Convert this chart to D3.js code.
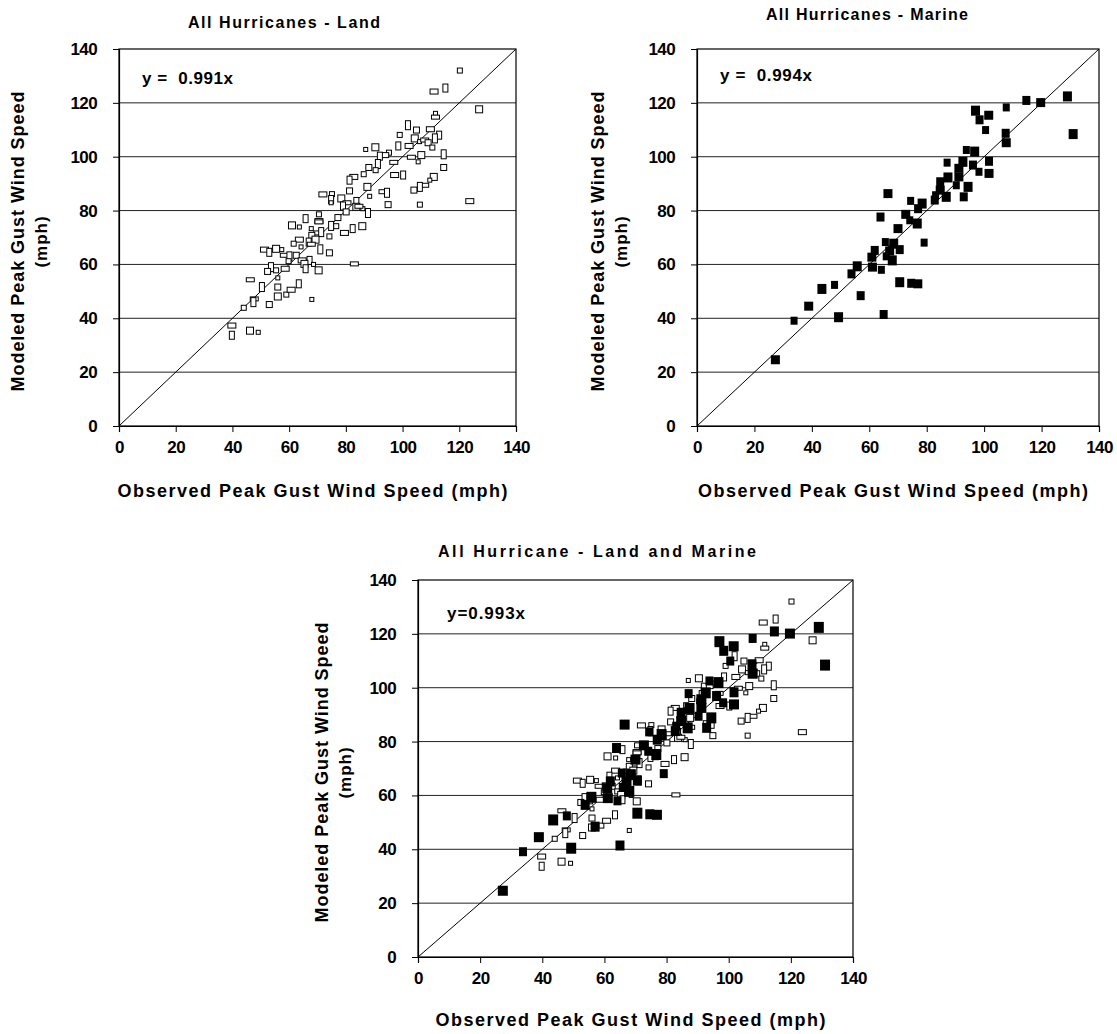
<!DOCTYPE html>
<html>
<head>
<meta charset="utf-8">
<script src="https://cdn.jsdelivr.net/npm/d3@7"></script>
<style>
  body { margin: 0; background: #fff; }
  svg { display: block; font-family: "Liberation Sans", Arial, sans-serif; font-weight: bold; }
</style>
</head>
<body>
<svg id="chart" width="1117" height="1034"></svg>
<script>
// observed / modeled peak gust (mph), land stations
var landObserved = [120.2,111.1,115.1,127,111.6,111.6,101.9,104.9,99,109.8,112.9,104.3,106,107.8,111.4,109,110.5,102.3,98.5,106.6,
  105.5,103.1,114.5,114.5,95.2,93.7,92,90.4,87,96.9,91.3,88.1,90.5,97.2,100.2,111,109.6,107.8,106.1,104,
  86.3,82.8,81.3,87.6,88.4,93.1,94.5,81.3,75.1,71.9,74.8,78.4,74.8,80.4,83.7,94.9,106.1,123.7,79,83.7,
  86,84.6,87.8,80.1,70.5,70.5,65.8,61,63.6,70.5,74.8,77.2,76.6,79.5,82.4,85.8,67.8,70.1,71.3,68,
  74.2,63.6,66.9,69.3,64.2,67.8,71,74.2,61.6,51.3,53,55.4,57.4,58.3,60.1,62.5,59.8,64.6,67.2,65.4,
  68.6,83,53.6,52.4,55.4,58.6,65.8,70.4,56,46.3,50.4,56,59,60.7,63.4,56,68,47.7,47.4,53,
  44,39.8,39.8,46.2,49.1];
var landModeled = [132,124.2,125.5,117.6,116.1,114.7,111.7,109.9,108.1,110.2,108,106.8,105.6,106.2,106.8,105.2,103.4,104,104,100.6,
  98.1,99.8,100.9,96,101.5,100.6,100.2,103.5,102.7,97.9,97.3,96,95,93.2,93.2,92.5,91.3,89.4,88.8,87.6,
  93.5,92.5,91.3,88.8,85.3,87,86.6,87.3,86.1,86,84.1,84.5,82.9,82.9,83.2,82.2,82.2,83.5,81.7,81.4,
  80.7,81.6,79.1,79.5,78.6,76.1,77,74.5,73.9,75.8,74.3,77.4,74.2,71.7,73.3,74.2,73.3,71.7,72,70.8,
  70.4,69.2,68.3,69.2,66.5,67.5,65.6,64.3,67.7,65.5,64.5,65.8,65.5,63.4,63,63.4,61.2,61.5,61.5,60.2,
  60,60.2,59,57.4,57.8,58.4,58.4,57.8,55,54.3,51.6,51.6,48.8,50.6,52.8,48.1,47,47.2,46,45.1,
  43.9,37.3,33.7,35.4,34.8];

// observed / modeled peak gust (mph), marine stations
var marineObserved = [129,114.7,119.7,107.7,97,98.4,101.6,100.5,131,107.5,107.7,93.8,96.7,101.7,101.7,87.1,92.6,96.1,91.2,98.2,
  87.4,84.7,91.2,90.3,94.4,92.9,84.7,83.1,86.8,82.8,66.5,74.4,78.4,77,72.7,74.1,76.7,63.9,70,65.6,
  68.5,70.6,67.1,65.9,68,61.9,60.9,79.1,55.8,53.8,61.1,64.2,70.6,74.6,76.9,47.9,43.5,57,38.9,33.8,
  49.3,65,27.3];
var marineModeled = [122.4,120.9,120.1,118.3,117.1,113.7,115.4,109.9,108.4,108.7,105.2,102.5,101.9,98.3,93.8,97.8,98.1,96.9,95.7,94.4,
  92.3,90.7,92.5,89.4,88.8,85.1,87.6,85.7,85.1,83.9,86.3,83.6,82.6,80.7,78.6,76.4,75.2,77.6,73.3,68.3,
  67.7,65.5,65,63,61.5,65.2,62.7,68.1,59.3,56.5,59,58,53.4,53,52.8,52.4,50.9,48.4,44.5,39.1,
  40.4,41.4,24.6];

var axisTicks = [0, 20, 40, 60, 80, 100, 120, 140];
var panelTitles = ["All Hurricanes - Land", "All Hurricanes - Marine", "All Hurricane - Land and Marine"];
var fitLabels = ["y =  0.991x", "y =  0.994x", "y=0.993x"];
var xTitle = "Observed Peak Gust Wind Speed (mph)";
var yTitle = ["Modeled Peak Gust Wind Speed", "(mph)"];

var land = landObserved.map(function(d, i) { return {x: d, y: landModeled[i], kind: "land", i: i}; });
var marine = marineObserved.map(function(d, i) { return {x: d, y: marineModeled[i], kind: "marine", i: i}; });

// excel-ish marker boxes, cycled so the hollow ones don't all look alike
var landBoxes = [[5,5],[8,5],[5,8],[7,7],[4,4],[8,4],[5,9],[6,6]];
var marineBoxes = [[9,10],[8,9],[9,9],[7,8]];

var svg = d3.select("#chart");

var panels = [
  {left: 119, top: 49, width: 397, height: 377, pts: land, title: panelTitles[0], titleX: 284, titleY: 28, titleW: 192,
   fit: fitLabels[0], fitX: 142, fitY: 84, fitW: 91, yt1: 24, xtY: 497, big: false},
  {left: 697, top: 49, width: 402, height: 377, pts: marine, title: panelTitles[1], titleX: 867, titleY: 20, titleW: 202,
   fit: fitLabels[1], fitX: 720, fitY: 81, fitW: 92, yt1: 604, xtY: 497, big: false},
  {left: 418, top: 580, width: 435, height: 377, pts: land.concat(marine), title: panelTitles[2], titleX: 597, titleY: 557, titleW: 318,
   fit: fitLabels[2], fitX: 447, fitY: 619, fitW: 78, yt1: 328, xtY: 1026, big: true}
];

panels.forEach(function(p) {
  var x = d3.scaleLinear().domain([0, 140]).range([p.left, p.left + p.width]);
  var y = d3.scaleLinear().domain([0, 140]).range([p.top + p.height, p.top]);
  var g = svg.append("g");

  // horizontal grid
  g.selectAll(".grid").data(axisTicks.slice(1, -1)).enter().append("line")
    .attr("x1", x(0)).attr("x2", x(140))
    .attr("y1", function(d) { return y(d); }).attr("y2", function(d) { return y(d); })
    .attr("stroke", "#222").attr("stroke-width", 1);

  // frame
  g.append("rect").attr("x", x(0)).attr("y", y(140))
    .attr("width", x(140) - x(0)).attr("height", y(0) - y(140))
    .attr("fill", "none").attr("stroke", "#000").attr("stroke-width", 1.2);

  // 1:1 line
  g.append("line").attr("x1", x(0)).attr("y1", y(0)).attr("x2", x(140)).attr("y2", y(140))
    .attr("stroke", "#000").attr("stroke-width", 1);

  var yAxis = d3.axisLeft(y).tickValues(axisTicks).tickSize(6).tickPadding(16).tickFormat(d3.format("d"));
  var xAxis = d3.axisBottom(x).tickValues(axisTicks).tickSize(6).tickPadding(9).tickFormat(d3.format("d"));

  g.append("g").attr("transform", "translate(" + x(0) + ",0)").call(yAxis);
  g.append("g").attr("transform", "translate(0," + y(0) + ")").call(xAxis);
  g.selectAll(".domain").attr("stroke", "#000").attr("stroke-width", 1.2);
  g.selectAll(".tick line").attr("stroke", "#000");
  g.selectAll(".tick text").attr("font-size", 17).attr("font-weight", "bold")
    .attr("fill", "#000").attr("font-family", "Liberation Sans, Arial, sans-serif")
    .attr("letter-spacing", -0.6);

  // points: land hollow, marine filled
  g.selectAll(".pt").data(p.pts).enter().append("rect")
    .attr("width", function(d) { return box(d, p)[0]; })
    .attr("height", function(d) { return box(d, p)[1]; })
    .attr("x", function(d) { return x(d.x) - box(d, p)[0] / 2; })
    .attr("y", function(d) { return y(d.y) - box(d, p)[1] / 2; })
    .attr("fill", function(d) { return d.kind == "marine" ? "#000" : "#fff"; })
    .attr("stroke", "#000")
    .attr("stroke-width", function(d) { return d.kind == "marine" ? 0 : 1; });

  g.append("text").attr("x", p.fitX).attr("y", p.fitY)
    .attr("font-size", 17).attr("xml:space", "preserve").style("white-space", "pre")
    .attr("textLength", p.fitW).attr("lengthAdjust", "spacing").text(p.fit);

  g.append("text").attr("x", p.titleX).attr("y", p.titleY).attr("text-anchor", "middle")
    .attr("font-size", 16).attr("textLength", p.titleW).attr("lengthAdjust", "spacing").text(p.title);

  g.append("text").attr("x", p.left + p.width / 2 - 5).attr("y", p.xtY).attr("text-anchor", "middle")
    .attr("font-size", 18).attr("textLength", 390).attr("lengthAdjust", "spacing").text(xTitle);

  var cy = p.top + p.height / 2 + 4;
  g.append("text").attr("transform", "translate(" + p.yt1 + "," + cy + ") rotate(-90)")
    .attr("text-anchor", "middle").attr("font-size", 18)
    .attr("textLength", 300).attr("lengthAdjust", "spacing").text(yTitle[0]);
  g.append("text").attr("transform", "translate(" + (p.yt1 + 23) + "," + cy + ") rotate(-90)")
    .attr("text-anchor", "middle").attr("font-size", 17).attr("letter-spacing", 1).text(yTitle[1]);
});

function box(d, p) {
  if (d.kind == "marine") {
    var b = marineBoxes[d.i % marineBoxes.length];
    return p.big ? [b[0] + 1, b[1] + 1] : b;
  }
  return landBoxes[d.i % landBoxes.length];
}
</script>
</body>
</html>
